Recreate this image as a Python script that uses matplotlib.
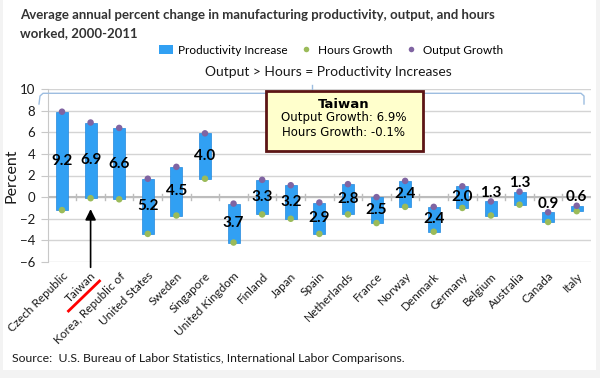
import numpy as np
import matplotlib.pyplot as plt
from matplotlib.patches import Patch, Rectangle
from matplotlib.lines import Line2D

# data (percent, average annual change 2000-2011)
countries = ['Czech Republic', 'Taiwan', 'Korea, Republic of', 'United States', 'Sweden',
             'Singapore', 'United Kingdom', 'Finland', 'Japan', 'Spain', 'Netherlands',
             'France', 'Norway', 'Denmark', 'Germany', 'Belgium', 'Australia', 'Canada', 'Italy']
output_growth = [7.9, 6.9, 6.4, 1.7, 2.8, 5.9, -0.6, 1.6, 1.1, -0.5, 1.2,
                 0.0, 1.5, -0.9, 1.0, -0.4, 0.5, -1.4, -0.8]
hours_growth = [-1.2, -0.1, -0.2, -3.4, -1.7, 1.7, -4.2, -1.6, -2.0, -3.4, -1.6,
                -2.4, -0.9, -3.2, -1.0, -1.7, -0.7, -2.3, -1.3]
productivity = [9.2, 6.9, 6.6, 5.2, 4.5, 4.0, 3.7, 3.3, 3.2, 2.9, 2.8,
                2.5, 2.4, 2.4, 2.0, 1.3, 1.3, 0.9, 0.6]

bar_col = '#31a0f3'
out_col = '#8064a2'
hrs_col = '#9bbb59'
txt_col = '#1a1a1a'
font = 'Lato'

fig = plt.figure(figsize=(6, 3.78), dpi=100, facecolor='#f3f3f3')
fig.add_artist(Rectangle((3/600, 1-370/378), 593/600, 370/378, transform=fig.transFigure,
                         facecolor='white', edgecolor='none', zorder=0))

ax = fig.add_axes([47.7/600, 1-262/378, (591-47.7)/600, (262-89)/378])
ax.set_facecolor('white')

x = np.arange(len(countries))
out = np.array(output_growth)
hrs = np.array(hours_growth)

ax.bar(x, out - hrs, bottom=hrs, width=0.42, color=bar_col, edgecolor='#2288dd', lw=0.5, zorder=3)
ax.scatter(x, hrs, s=22, color=hrs_col, zorder=4, edgecolors='none')
ax.scatter(x, out, s=22, color=out_col, zorder=4, edgecolors='none')

# data labels: centered in the bar, above it when the bar is short
for i, p in enumerate(productivity):
    if p < 1.5:
        ypos = out[i] + 0.8
    else:
        ypos = (out[i] + hrs[i]) / 2
    ax.text(x[i], ypos, '%.1f' % p, ha='center', va='center', fontsize=11,
            fontweight='bold', family=font, color='black', zorder=5)

ax.set_xlim(-0.5, len(countries) - 0.5)
ax.set_ylim(-6, 10)
ax.set_yticks(np.arange(-6, 11, 2))
ax.yaxis.grid(True, color='#d4d4d4', lw=1)
ax.set_axisbelow(True)
for s in ['top', 'right', 'bottom']:
    ax.spines[s].set_visible(False)
ax.spines['left'].set_color('#c8c8c8')
ax.tick_params(axis='y', length=5, color='#c8c8c8', labelsize=9.5, labelcolor=txt_col, pad=4)
for lab in ax.get_yticklabels():
    lab.set_family(font)

# category axis at zero with small ticks between categories
ax.axhline(0, color='#bdbdbd', lw=1.5, zorder=2)
for b in x[:-1] + 0.5:
    ax.plot([b, b], [-0.25, 0.25], color='#bdbdbd', lw=1, zorder=2)

ax.set_xticks(x)
ax.set_xticklabels(countries, rotation=45, ha='right', rotation_mode='anchor',
                   fontsize=8.5, family=font, color=txt_col)
ax.tick_params(axis='x', length=0, pad=6)
ax.set_ylabel('Percent', fontsize=11.5, family=font, color=txt_col, labelpad=1)

# arrow pointing at Taiwan
ax.annotate('', xy=(1, -0.85), xytext=(1, -6.75), annotation_clip=False,
            arrowprops=dict(arrowstyle='-|>', color='black', lw=1.2, mutation_scale=16))
fig.add_artist(Line2D([68.5/600, 99.5/600], [1-311/378, 1-281/378], transform=fig.transFigure,
                      color='red', lw=2))

# bracket above the plot
bx = [39, 40, 43, 312, 581, 584, 584]
by = [104, 96, 93.3, 93.3, 93.3, 96, 104]
fig.add_artist(Line2D(np.array(bx)/600, 1-np.array(by)/378, transform=fig.transFigure,
                      color='#9dbde0', lw=1))
fig.add_artist(Line2D([312/600, 312/600], [1-93.3/378, 1-85/378], transform=fig.transFigure,
                      color='#9dbde0', lw=1))

# tooltip box
fig.add_artist(Rectangle((266/600, 1-151/378), 157/600, 60/378, transform=fig.transFigure,
                         facecolor='#ffffcc', edgecolor='#5c1515', lw=2, zorder=6))
fig.text(344/600, 1-104/378, 'Taiwan', ha='center', va='center', fontsize=9.5,
         fontweight='bold', family='DejaVu Sans', color='black', zorder=7)
fig.text(344/600, 1-118/378, 'Output Growth: 6.9%', ha='center', va='center', fontsize=8.5,
         family='DejaVu Sans', color='black', zorder=7)
fig.text(344/600, 1-132/378, 'Hours Growth: -0.1%', ha='center', va='center', fontsize=8.5,
         family='DejaVu Sans', color='black', zorder=7)

# titles
fig.text(20/600, 1-15/378, 'Average annual percent change in manufacturing productivity, output, and hours',
         ha='left', va='center', fontsize=9.5, fontweight='bold', family=font, color='#333333')
fig.text(20/600, 1-33/378, 'worked, 2000-2011', ha='left', va='center', fontsize=9.5,
         fontweight='bold', family=font, color='#333333')
fig.text(328/600, 1-72/378, 'Output > Hours = Productivity Increases', ha='center', va='center',
         fontsize=10, family=font, color=txt_col)

handles = [Patch(facecolor=bar_col, edgecolor='none'),
           Line2D([], [], marker='o', color='none', markerfacecolor=hrs_col, markeredgecolor='none', markersize=4),
           Line2D([], [], marker='o', color='none', markerfacecolor=out_col, markeredgecolor='none', markersize=4)]
fig.legend(handles, ['Productivity Increase', 'Hours Growth', 'Output Growth'], loc='center',
           bbox_to_anchor=(331/600, 1-50/378), ncol=3, frameon=False, handlelength=1.2,
           handletextpad=0.4, columnspacing=1.0, prop={'family': font, 'size': 8.5})

fig.text(12/600, 1-358/378, 'Source:  U.S. Bureau of Labor Statistics, International Labor Comparisons.',
         ha='left', va='center', fontsize=8.8, family=font, color=txt_col)

fig.savefig('out.png', dpi=100, facecolor=fig.get_facecolor())
